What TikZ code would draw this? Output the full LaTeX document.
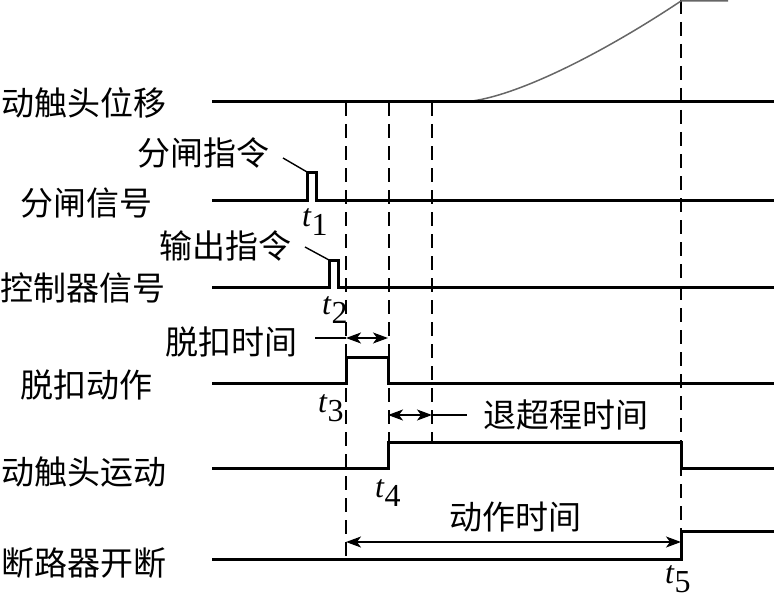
\documentclass[tikz,border=0pt]{standalone}
\usepackage{fontspec}
\newfontfamily\cjk{Noto Sans CJK SC}
\newfontfamily\tms{Liberation Serif}
\usetikzlibrary{arrows.meta}
\begin{document}
\begin{tikzpicture}[x=1pt,y=-1pt,
  sig/.style={line width=3pt,line join=miter,line cap=butt},
  guide/.style={line width=1.4pt,dash pattern=on 14pt off 8pt},
  thin/.style={line width=1.4pt},
  dim/.style={line width=1.4pt,{Stealth[length=15pt,width=11pt,inset=4pt]}-{Stealth[length=15pt,width=11pt,inset=4pt]}},
  lbl/.style={font=\cjk\fontsize{33}{36}\selectfont,inner sep=0pt},
  tl/.style={font=\tms\fontsize{32}{34}\selectfont,inner sep=0pt,anchor=base west}]
\useasboundingbox (0,0) rectangle (776,599);
% guide lines
\coordinate (ga) at (346,102); \coordinate (gab) at (346,559);
\coordinate (gb) at (389,102); \coordinate (gbb) at (389,468);
\coordinate (gc) at (432,102); \coordinate (gcb) at (432,442);
\coordinate (gd) at (681,0);   \coordinate (gdb) at (681,531);
\draw[guide] (ga) -- (gab);
\draw[guide] (gb) -- (gbb);
\draw[guide] (gc) -- (gcb);
\draw[guide] (gd) -- (gdb);
% displacement curve
\coordinate (cs) at (462,102); \coordinate (ce) at (681,1); \coordinate (cf) at (728,1);
\draw[line width=1.5pt,draw=black!60] (cs) .. controls (510,100) and (600,55) .. (ce) -- (cf);
% waveforms
\draw[sig] (212,102) -- (774,102);
\draw[sig] (212,200) -- (307,200) -- (307,172) -- (316,172) -- (316,200) -- (774,200);
\draw[sig] (212,287) -- (329,287) -- (329,260) -- (338,260) -- (338,287) -- (774,287);
\draw[sig] (212,383) -- (346,383) -- (346,357) -- (388,357) -- (388,383) -- (774,383);
\draw[sig] (212,468) -- (388,468) -- (388,442) -- (681,442) -- (681,468) -- (774,468);
\draw[sig] (212,559) -- (681,559) -- (681,531) -- (774,531);
% row labels
\node[lbl] (r1) at (84,103) {动触头位移};
\node[lbl] (r2) at (86,203) {分闸信号};
\node[lbl] (r3) at (83,288) {控制器信号};
\node[lbl] (r4) at (86,385) {脱扣动作};
\node[lbl] (r5) at (84,472) {动触头运动};
\node[lbl] (r6) at (84,563) {断路器开断};
% annotations
\node[lbl] (a1) at (203,153) {分闸指令};
\node[lbl] (a2) at (225,246) {输出指令};
\node[lbl] (a3) at (231,342) {脱扣时间};
\node[lbl] (a4) at (566,415) {退超程时间};
\node[lbl] (a5) at (515,517) {动作时间};
\coordinate (p1) at (307,172); \coordinate (p2) at (329,260);
\draw[thin] (283,158) -- (p1);
\draw[thin] (305,247) -- (p2);
% dimension arrows
\draw[thin] (315,338) -- (346,338);
\draw[dim] (346,338) -- (388,338);
\draw[dim] (388,415) -- (432,415);
\draw[thin] (432,415) -- (467,415);
\draw[dim] (346,542) -- (681,542);
% time labels
\node[tl] (t1) at (302,226) {\textit{t}\raisebox{-9pt}{1}};
\node[tl] (t2) at (322,314) {\textit{t}\raisebox{-9pt}{2}};
\node[tl] (t3) at (318,412) {\textit{t}\raisebox{-9pt}{3}};
\node[tl] (t4) at (375,497) {\textit{t}\raisebox{-9pt}{4}};
\node[tl] (t5) at (665,583) {\textit{t}\raisebox{-9pt}{5}};
\end{tikzpicture}
\end{document}
